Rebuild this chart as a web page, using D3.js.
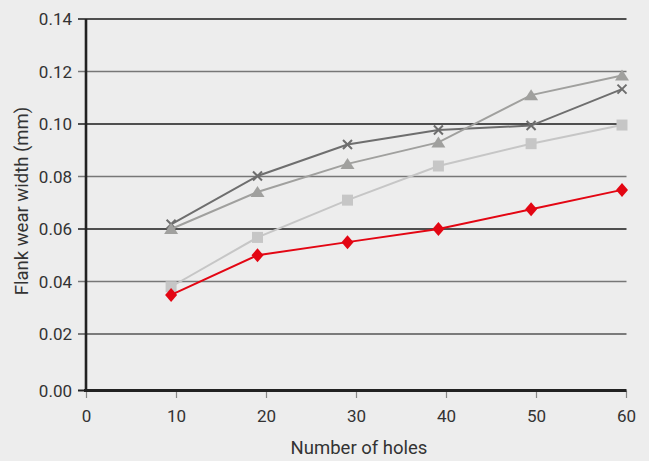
<!DOCTYPE html>
<html>
<head>
<meta charset="utf-8">
<script src="https://cdn.jsdelivr.net/npm/d3@7"></script>
<style>
  html, body { margin: 0; padding: 0; background: #ededed; }
  svg { display: block; }
  text { font-family: Roboto, "Noto Sans", sans-serif; fill: #333; }
</style>
</head>
<body>
<script>
// ---- data ----
const holes = [9.4, 19, 29, 39.1, 49.4, 59.5];
const seriesCross    = [0.0618, 0.0802, 0.0922, 0.0977, 0.0994, 0.1133];
const seriesTriangle = [0.0600, 0.0741, 0.0848, 0.0930, 0.1110, 0.1185];
const seriesSquare   = [0.0380, 0.0568, 0.0710, 0.0840, 0.0925, 0.0996];
const seriesDiamond  = [0.0349, 0.0500, 0.0550, 0.0600, 0.0675, 0.0749];
const xTicks = [0, 10, 20, 30, 40, 50, 60];
const yTicks = [0, 0.02, 0.04, 0.06, 0.08, 0.10, 0.12, 0.14];
const gridColors = ["#222", "#555", "#777", "#1a1a1a", "#777", "#1a1a1a", "#777", "#1a1a1a"];

const W = 649, H = 461;
const svg = d3.select("body").append("svg").attr("width", W).attr("height", H);
svg.append("rect").attr("width", W).attr("height", H).attr("fill", "#ededed");

const x = d3.scaleLinear().domain([0, 60]).range([86.5, 626.5]);
const y = d3.scaleLinear().domain([0, 0.14]).range([386.5, 19]);
const xAxisY = 390.5;

// gridlines
svg.append("g").selectAll("line").data(yTicks.slice(1)).join("line")
  .attr("x1", 78).attr("x2", x(60))
  .attr("y1", d => y(d)).attr("y2", d => y(d))
  .attr("stroke", (d, i) => gridColors[i + 1]).attr("stroke-width", 1.6);

// y tick labels
svg.append("g").selectAll("text").data(yTicks).join("text")
  .attr("x", 72).attr("y", (d, i) => i === 0 ? xAxisY : y(d))
  .attr("dy", "0.36em").attr("text-anchor", "end")
  .attr("font-size", 17)
  .text(d => d3.format(".2f")(d));

// y tick at 0
svg.append("line").attr("x1", 78).attr("x2", 86).attr("y1", xAxisY).attr("y2", xAxisY)
  .attr("stroke", "#222").attr("stroke-width", 2);

// x ticks
svg.append("g").selectAll("line").data(xTicks).join("line")
  .attr("x1", d => x(d)).attr("x2", d => x(d))
  .attr("y1", xAxisY).attr("y2", 398)
  .attr("stroke", "#888").attr("stroke-width", 1.2);

svg.append("g").selectAll("text").data(xTicks).join("text")
  .attr("x", d => x(d)).attr("y", 416).attr("dy", "0.36em")
  .attr("text-anchor", "middle").attr("font-size", 17)
  .text(d => d);

// axes lines
svg.append("line").attr("x1", 86).attr("x2", 86).attr("y1", 19).attr("y2", xAxisY + 1.5)
  .attr("stroke", "#222").attr("stroke-width", 2.6);
svg.append("line").attr("x1", 84).attr("x2", x(60)).attr("y1", xAxisY).attr("y2", xAxisY)
  .attr("stroke", "#222").attr("stroke-width", 3);

// axis titles
svg.append("text").attr("x", 359).attr("y", 447).attr("dy", "0.36em")
  .attr("text-anchor", "middle").attr("font-size", 18.5)
  .text("Number of holes");
svg.append("text").attr("transform", "translate(21,201) rotate(-90)")
  .attr("dy", "0.36em").attr("text-anchor", "middle").attr("font-size", 18.5)
  .text("Flank wear width (mm)");

const line = d3.line().x(d => x(d[0])).y(d => y(d[1]));
function draw(vals, color, marker) {
  const pts = holes.map((h, i) => [h, vals[i]]);
  const g = svg.append("g");
  g.append("path").datum(pts).attr("d", line)
    .attr("fill", "none").attr("stroke", color).attr("stroke-width", 2);
  g.selectAll(".m").data(pts).join(marker.tag)
    .each(function(d) { marker.draw(d3.select(this), x(d[0]), y(d[1]), color); });
}

draw(seriesCross, "#6e6e6e", { tag: "path", draw: (s, cx, cy, c) => {
  const r = 4.5;
  s.attr("d", `M${cx-r},${cy-r}L${cx+r},${cy+r}M${cx-r},${cy+r}L${cx+r},${cy-r}`)
   .attr("stroke", c).attr("stroke-width", 2).attr("fill", "none");
}});
draw(seriesTriangle, "#a0a09e", { tag: "path", draw: (s, cx, cy, c) => {
  s.attr("d", `M${cx},${cy-6}L${cx+7},${cy+5}L${cx-7},${cy+5}Z`).attr("fill", c);
}});
draw(seriesSquare, "#c6c6c6", { tag: "path", draw: (s, cx, cy, c) => {
  s.attr("d", `M${cx-5.5},${cy-5.5}h11v11h-11Z`).attr("fill", c);
}});
draw(seriesDiamond, "#e30613", { tag: "path", draw: (s, cx, cy, c) => {
  s.attr("d", `M${cx},${cy-7}L${cx+6},${cy}L${cx},${cy+7}L${cx-6},${cy}Z`).attr("fill", c);
}});
</script>
</body>
</html>
